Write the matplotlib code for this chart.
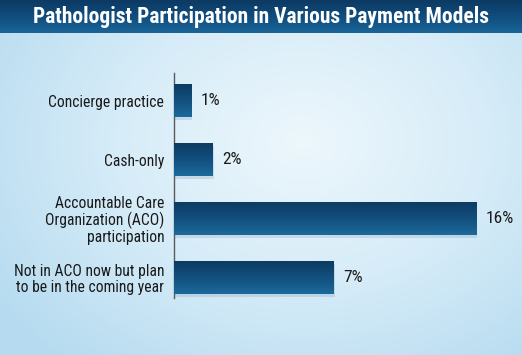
import numpy as np
import matplotlib
matplotlib.use("Agg")
import matplotlib.pyplot as plt
from matplotlib import font_manager
from matplotlib.colors import LinearSegmentedColormap

categories = ["Concierge practice", "Cash-only",
              "Accountable Care\nOrganization (ACO)\nparticipation",
              "Not in ACO now but plan\nto be in the coming year"]
bar_values = [0.9, 2.05, 16.0, 8.45]
value_labels = ["1%", "2%", "16%", "7%"]
title = "Pathologist Participation in Various Payment Models"

avail = {f.name for f in font_manager.fontManager.ttflist}
cands = ["Roboto Condensed", "Liberation Sans Narrow", "Roboto", "DejaVu Sans"]
narrow = next(c for c in cands if c in avail)
fam = [narrow, "DejaVu Sans"]

W, H = 522, 355
fig = plt.figure(figsize=(W / 100, H / 100), dpi=100)

# background gradient
bg = fig.add_axes([0, 0, 1, 1], zorder=0)
bg.set_axis_off()
yy, xx = np.mgrid[0:1:200j, 0:1:300j]
d = np.sqrt(((xx - 0.58) / 0.8) ** 2 + ((yy - 0.4) / 0.9) ** 2)
bg_cmap = LinearSegmentedColormap.from_list("bg", ["#edf7fc", "#d6ecf8", "#b6dbf0"])
bg.imshow(d, cmap=bg_cmap, extent=[0, 1, 0, 1], aspect="auto", vmin=0, vmax=0.9, origin="upper")
# title bar
tb = np.linspace(0, 1, 50).reshape(-1, 1)
tb_cmap = LinearSegmentedColormap.from_list("tb", ["#0c3a63", "#114d7e", "#1a6498"])
bg.imshow(tb, cmap=tb_cmap, extent=[0, 1, 1 - 33 / H, 1], aspect="auto", origin="upper")
bg.set_xlim(0, 1); bg.set_ylim(0, 1)
t = fig.text(0.5, 1 - 17 / H, title, ha="center", va="center", color="white",
             fontsize=13, fontweight="bold", family=fam)

ax = fig.add_axes([174 / W, 57 / H, 336 / W, 225 / H], zorder=2)
ax.patch.set_alpha(0)
y = np.arange(len(categories))
bars = ax.barh(y, bar_values, height=0.56, color="none", edgecolor="none", zorder=3)
ax.set_xlim(0, 336 / 18.9)
ax.set_ylim(3.35, -0.47)

bar_cmap = LinearSegmentedColormap.from_list("bar", ["#0c3c62", "#134f7e", "#1b6a9b"])
grad = np.linspace(0, 1, 64).reshape(-1, 1)
for b, lab in zip(bars, value_labels):
    x0, y0 = b.get_x(), b.get_y()
    w, h = b.get_width(), b.get_height()
    ax.add_patch(plt.Rectangle((x0, y0 + 0.05), w + 0.05, h, color="#6b8ea8", alpha=0.22, lw=0, zorder=2))
    im = ax.imshow(grad, cmap=bar_cmap, extent=[x0, x0 + w, y0 + h, y0], aspect="auto",
                   origin="upper", zorder=3)
    im.set_clip_path(b)
    ax.text(x0 + w + 0.5, y0 + h / 2, lab, va="center", ha="left", fontsize=12.5,
            color="#1a1a1a", family=fam)

ax.set_yticks(y)
ax.set_yticklabels(categories, fontsize=10, color="#1a1a1a", family=fam, linespacing=1.1)
ax.tick_params(axis="y", length=0, pad=7)
ax.set_xticks([])
for s in ["top", "right", "bottom"]:
    ax.spines[s].set_visible(False)
ax.spines["left"].set_color("#5a5a5a")
ax.spines["left"].set_linewidth(1)

# fit text widths to the reference
r = fig.canvas.get_renderer()
tw = t.get_window_extent(r).width
t.set_fontsize(13 * 454 / tw)
lbl = ax.get_yticklabels()[0]
lw_ = lbl.get_window_extent(r).width
fs = 10 * 115 / lw_
for l in ax.get_yticklabels():
    l.set_fontsize(fs)

fig.savefig("out.png", dpi=100)
